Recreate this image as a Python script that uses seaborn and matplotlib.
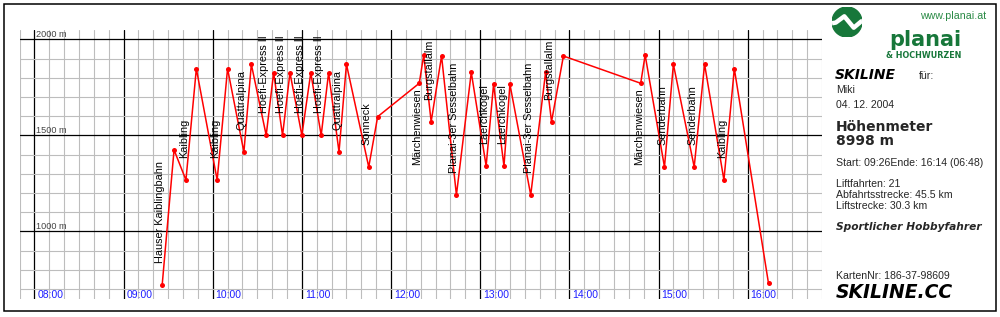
import matplotlib
matplotlib.use("Agg")
import numpy as np
import pandas as pd
import matplotlib.pyplot as plt
import seaborn as sns
from matplotlib.patches import Rectangle, Circle

# ---------------- data ----------------
times = ["09:26", "09:34", "09:42", "09:49", "10:03", "10:10", "10:21", "10:26",
         "10:36", "10:41", "10:47", "10:52", "11:00", "11:06", "11:13", "11:18",
         "11:25", "11:30", "11:45", "11:51", "12:19", "12:22", "12:27", "12:34",
         "12:44", "12:54", "13:04", "13:09", "13:16", "13:20", "13:34", "13:44",
         "13:48", "13:56", "14:48", "14:51", "15:04", "15:10", "15:24", "15:31",
         "15:44", "15:51", "16:14"]
elevations = [720, 1424, 1267, 1847, 1267, 1847, 1413, 1870,
              1500, 1826, 1500, 1826, 1500, 1826, 1500, 1826,
              1413, 1870, 1335, 1597, 1771, 1918, 1571, 1913,
              1189, 1828, 1340, 1766, 1340, 1766, 1189, 1828,
              1571, 1913, 1771, 1918, 1335, 1870, 1335, 1870,
              1267, 1847, 729]
lift_names = ["Hauser Kaiblingbahn", "Kaibling", "Kaibling", "Quattralpina",
              "Hoefi-Express II", "Hoefi-Express II", "Hoefi-Express II",
              "Hoefi-Express II", "Quattralpina", "Sonneck", "Märchenwiesen",
              "Burgstallalm", "Planai-3er Sesselbahn", "Laerchkogel", "Laerchkogel",
              "Planai-3er Sesselbahn", "Burgstallalm", "Märchenwiesen",
              "Senderbahn", "Senderbahn", "Kaibling"]
lift_starts = [0, 2, 4, 6, 8, 10, 12, 14, 16, 18, 20, 22, 24, 26, 28, 30, 32, 34, 36, 38, 40]

hour_ticks = ["08:00", "09:00", "10:00", "11:00", "12:00", "13:00", "14:00", "15:00", "16:00"]
elev_ticks = [1000, 1500, 2000]

card_owner = "Miki"
ride_date = "04. 12. 2004"
total_vertical_m = 8998
start_time = "09:26"
end_time = "16:14"
duration = "06:48"
lift_rides = 21
downhill_km = 45.5
lift_km = 30.3
rider_type = "Sportlicher Hobbyfahrer"
card_no = "186-37-98609"


def to_min(t):
    return int(t[:2]) * 60 + int(t[3:])


df = pd.DataFrame({"minute": [to_min(t) for t in times], "elevation": elevations})

# ---------------- style ----------------
sns.set_style("white")
plt.rcParams["font.family"] = ["Liberation Sans", "DejaVu Sans"]

W, H = 1000, 317
fig = plt.figure(figsize=(W / 100, H / 100), dpi=100)
fig.patch.set_facecolor("white")


def fx(x):
    return x / W


def fy(y):
    return 1 - y / H


ax_l, ax_r, ax_t, ax_b = 19.5, 822.0, 29.7, 298.5
ax = fig.add_axes([fx(ax_l), fy(ax_b), (ax_r - ax_l) / W, (ax_b - ax_t) / H])

sns.lineplot(data=df, x="minute", y="elevation", ax=ax, color="#ff0000",
             linewidth=1.1, marker="o", markersize=3.6, markeredgewidth=0,
             sort=False, estimator=None, zorder=5)

ax.set_xlim(to_min("07:50"), to_min("16:50"))
ax.set_ylim(650, 2050)
hours = [to_min(h) for h in hour_ticks]
ax.set_xticks(hours)
ax.set_xticks(np.arange(to_min("07:50"), to_min("16:50") + 1, 10), minor=True)
ax.set_yticks(elev_ticks)
ax.set_yticks(np.arange(700, 2001, 100), minor=True)
ax.grid(which="minor", color="#bdbdbd", linewidth=0.8)
ax.grid(which="major", color="black", linewidth=0.9)
ax.set_axisbelow(True)
ax.tick_params(which="both", length=0, labelbottom=False, labelleft=False)
for s in ax.spines.values():
    s.set_visible(False)
ax.set_xlabel("")
ax.set_ylabel("")
ax.set_facecolor("white")

for h, lab in zip(hours, hour_ticks):
    ax.annotate(lab, xy=(h, 650), xytext=(3, 1), textcoords="offset pixels",
                ha="left", va="baseline", fontsize=7.5, color="#1f1fff",
                annotation_clip=False)

for e in elev_ticks:
    ax.annotate(f"{e} m", xy=(hours[0], e), xytext=(2, 2), textcoords="offset pixels",
                ha="left", va="baseline", fontsize=6.6, color="#444444",
                annotation_clip=False)

for idx, name in zip(lift_starts, lift_names):
    x0 = df["minute"].iloc[idx]
    y0 = df["elevation"].iloc[idx]
    if y0 > 1700:
        off, va = (-2, -5), "top"
    else:
        off, va = (-2, 22), "bottom"
    ax.annotate(name, xy=(x0, y0), xytext=off, textcoords="offset pixels",
                rotation=90, ha="center", va=va, fontsize=7.8, color="black",
                annotation_clip=False, zorder=6)

# ---------------- right panel ----------------
green = "#17773a"
fig.text(fx(986), fy(19.3), "www.planai.at", ha="right", va="baseline",
         fontsize=7.7, color="#2a8a45")

lax = fig.add_axes([fx(832), fy(37), 30 / W, 30 / H])
lax.set_xlim(-1, 1)
lax.set_ylim(-1, 1)
lax.set_aspect("equal")
lax.axis("off")
circ = Circle((0, 0), 1, color=green)
lax.add_patch(circ)
wave, = lax.plot([-1.1, -0.75, -0.18, 0.45, 0.95, 1.1], [-0.1, -0.04, 0.38, -0.38, 0.04, 0.1],
                 color="white", linewidth=3.2, solid_joinstyle="round")
wave.set_clip_path(circ)

fig.text(fx(961), fy(45.5), "planai", ha="right", va="baseline", fontsize=15,
         fontweight="bold", color=green, family="DejaVu Sans")
fig.text(fx(961), fy(58), "& HOCHWURZEN", ha="right", va="baseline", fontsize=5.8,
         fontweight="bold", color=green, family="DejaVu Sans")

fig.text(fx(835), fy(79), "SKILINE", ha="left", va="baseline", fontsize=10,
         fontweight="bold", style="italic", family="DejaVu Sans", color="black")
fig.text(fx(919), fy(79), "für:", ha="left", va="baseline", fontsize=7.6)
fig.text(fx(836), fy(93.3), card_owner, ha="left", va="baseline", fontsize=7.6)
fig.text(fx(836), fy(107.7), ride_date, ha="left", va="baseline", fontsize=7.6)
fig.text(fx(836), fy(131.3), "Höhenmeter", ha="left", va="baseline", fontsize=10,
         fontweight="bold", family="DejaVu Sans")
fig.text(fx(836), fy(145), f"{total_vertical_m} m", ha="left", va="baseline", fontsize=10,
         fontweight="bold", family="DejaVu Sans")
fig.text(fx(836), fy(166), f"Start: {start_time}Ende: {end_time} ({duration})",
         ha="left", va="baseline", fontsize=7.6)
fig.text(fx(836), fy(186.7), f"Liftfahrten: {lift_rides}", ha="left", va="baseline", fontsize=7.6)
fig.text(fx(836), fy(197.7), f"Abfahrtsstrecke: {downhill_km} km", ha="left", va="baseline",
         fontsize=7.6)
fig.text(fx(836), fy(209.3), f"Liftstrecke: {lift_km} km", ha="left", va="baseline",
         fontsize=7.6)
fig.text(fx(836), fy(230), rider_type, ha="left", va="baseline", fontsize=7.7,
         fontweight="bold", style="italic", family="DejaVu Sans")
fig.text(fx(836), fy(279.3), f"KartenNr: {card_no}", ha="left", va="baseline", fontsize=7.6)
fig.text(fx(836), fy(298), "SKILINE.CC", ha="left", va="baseline", fontsize=13.5,
         fontweight="bold", style="italic", family="DejaVu Sans", color="black")

# outer frame
fig.patches.append(Rectangle((fx(4), fy(311)), (996 - 4) / W, (311 - 4) / H,
                             transform=fig.transFigure, fill=False,
                             edgecolor="black", linewidth=1.1))

fig.savefig("out.png", dpi=100, facecolor="white")
